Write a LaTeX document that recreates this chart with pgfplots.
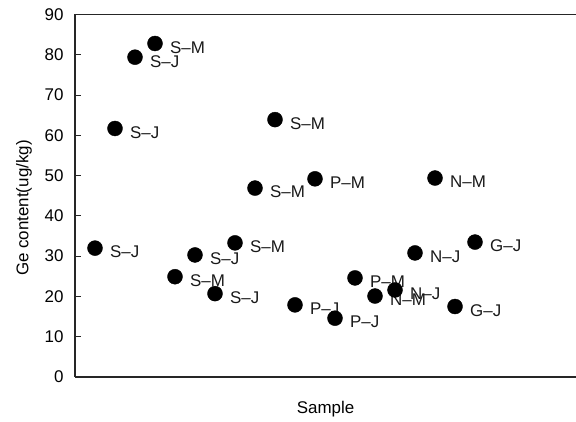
\documentclass[border=0pt]{standalone}
\usepackage{fontspec}
\setmainfont{Liberation Sans}
\usepackage{pgfplots}
\pgfplotsset{compat=1.18}
\usepackage{pgfplotstable}
\usetikzlibrary{calc}

% Ge content per sample, label = region/type
\pgfplotstableread[col sep=comma]{
x,y,lab
1,32.0,S–J
2,61.7,S–J
3,79.4,S–J
4,82.8,S–M
5,24.9,S–M
6,30.3,S–J
7,20.7,S–J
8,33.3,S–M
9,46.9,S–M
10,63.9,S–M
11,17.9,P–J
12,49.2,P–M
13,14.6,P–J
14,24.6,P–M
15,20.1,N–M
16,21.6,N–J
17,30.8,N–J
18,49.4,N–M
19,17.5,G–J
20,33.5,G–J
}\gedata

\begin{document}
\begin{tikzpicture}
\begin{axis}[
  scale only axis, width=501bp, height=362.5bp,
  xmin=0, xmax=25.05, ymin=0, ymax=90,
  axis x line*=box, axis y line*=left,
  axis line style={line width=1.2bp, black!85},
  xtick=\empty, ytick={0,10,...,90},
  tick align=inside, major tick length=6bp,
  tick style={line width=1bp, black!85},
  font=\fontsize{17}{20}\selectfont,
  /pgf/number format/assume math mode=true,
  yticklabel style={xshift=-8bp},
  xlabel={Sample}, ylabel={Ge content(ug/kg)},
  every axis x label/.style={at={(axis description cs:0.5,0)}, anchor=center, yshift=-32bp},
  every axis y label/.style={at={(axis description cs:0,0.466)}, rotate=90, anchor=south, inner sep=0pt, yshift=43bp},
  clip=false,
]
\addplot[only marks, mark=*, mark size=7.5bp, black,
  nodes near coords, point meta=explicit symbolic,
  every node near coord/.style={anchor=west, xshift=15bp, yshift=-4bp, inner sep=0pt, black!90}]
  table[x=x, y=y, meta=lab]{\gedata};
\coordinate (sw) at (rel axis cs:0,0);
\coordinate (ne) at (rel axis cs:1,1);
\end{axis}
\pgfresetboundingbox
\path[use as bounding box] ($(sw)+(-75bp,-45bp)$) rectangle ($(ne)+(0bp,14.5bp)$);
\end{tikzpicture}
\end{document}
